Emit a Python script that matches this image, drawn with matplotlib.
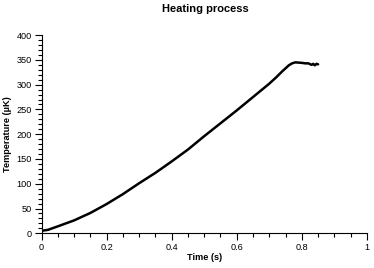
import matplotlib
matplotlib.use("Agg")
import matplotlib.pyplot as plt
from matplotlib.ticker import MultipleLocator

# values
time_s = [0.0, 0.02, 0.05, 0.1, 0.15, 0.2, 0.25, 0.3, 0.35, 0.4, 0.45, 0.5,
          0.55, 0.6, 0.65, 0.7, 0.72, 0.74, 0.76, 0.77, 0.78, 0.8, 0.81,
          0.82, 0.83, 0.835, 0.84, 0.845, 0.85]
temp_uK = [5, 7, 14, 26, 41, 59, 79, 101, 122, 145, 169, 196,
           222, 248, 275, 302, 314, 327, 339, 343, 345, 344, 343,
           343, 340, 342, 339, 342, 341]

plt.rcParams['font.family'] = ['Liberation Sans', 'DejaVu Sans']

fig = plt.figure(figsize=(3.74, 2.68), dpi=100)
ax = fig.add_axes([0.111, 0.1295, 0.870, 0.7395])

ax.plot(time_s, temp_uK, color='black', lw=1.8, solid_capstyle='round',
        solid_joinstyle='round')

ax.set_xlim(0, 1)
ax.set_ylim(0, 400)
ax.xaxis.set_minor_locator(MultipleLocator(0.05))
ax.yaxis.set_major_locator(MultipleLocator(50))
ax.yaxis.set_minor_locator(MultipleLocator(10))
ax.set_xticks([0, 0.2, 0.4, 0.6, 0.8, 1.0])
ax.set_xticklabels(['0', '0.2', '0.4', '0.6', '0.8', '1'])

for s in ['top', 'right']:
    ax.spines[s].set_visible(False)
for s in ['left', 'bottom']:
    ax.spines[s].set_linewidth(0.8)

ax.tick_params(which='major', direction='out', length=5, width=0.8,
               labelsize=6.6, pad=2)
ax.tick_params(which='minor', direction='out', length=3, width=0.8)

ax.set_xlabel('Time (s)', fontsize=6.6, fontweight='bold', labelpad=1)
ax.set_ylabel('Temperature (\u00b5K)', fontsize=6.6, fontweight='bold', labelpad=3)
fig.text(0.548, 0.966, 'Heating process', fontsize=8, fontweight='bold',
         ha='center', va='center')

fig.savefig('out.png', dpi=100)
